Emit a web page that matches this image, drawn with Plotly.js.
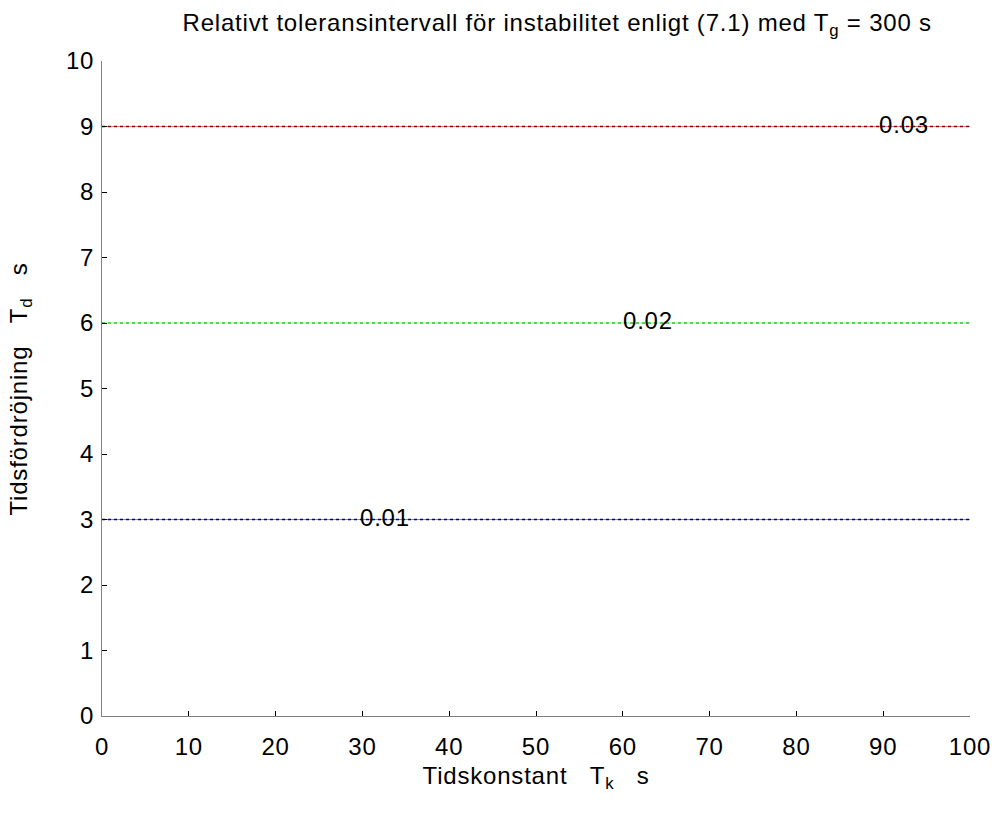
<!DOCTYPE html>
<html><head><meta charset="utf-8">
<script src="https://cdn.plot.ly/plotly-3.0.1.min.js"></script>
<style>html,body{margin:0;padding:0;background:#fff}#chart{width:995px;height:825px}
.main-svg text{letter-spacing:0.8px}</style>
</head><body><div id="chart"></div>
<script>
const xRange = [0, 100];
const levelsTd = [3, 6, 9];
const levelLabels = ['0.01', '0.02', '0.03'];
const labelX = [32.6, 62.9, 92.4];
const solidColors = ['#8080d0', '#90f090', '#d08080'];
const dashColors = ['#00008b', '#40c040', '#8b0000'];
const FONT = 'Liberation Sans, Arial, sans-serif';
const SP = '&nbsp;&nbsp;&nbsp;';

const traces = [];
levelsTd.forEach((v, i) => {
  traces.push({x: xRange, y: [v, v], mode: 'lines', line: {color: solidColors[i], width: 1.2}, hoverinfo: 'skip', showlegend: false});
  traces.push({x: xRange, y: [v, v], mode: 'lines', line: {color: dashColors[i], width: 1.5, dash: '3px,3px'}, hoverinfo: 'skip', showlegend: false});
});
traces.push({x: labelX, y: levelsTd, mode: 'text', text: levelLabels, textposition: 'middle center',
  textfont: {family: FONT, size: 24, color: '#000'}, hoverinfo: 'skip', showlegend: false});

const axisCommon = {
  showgrid: false, zeroline: false, showline: true, linecolor: '#808080', linewidth: 1,
  ticks: 'inside', ticklen: 5, tickcolor: '#000', tickwidth: 1,
  tickfont: {family: FONT, size: 24, color: '#000'}
};

const layout = {
  width: 995, height: 825,
  paper_bgcolor: '#fff', plot_bgcolor: '#fff',
  margin: {l: 102, r: 25, t: 61, b: 109},
  title: {text: 'Relativt toleransintervall för instabilitet enligt (7.1) med T<sub>g</sub> = 300 s',
    x: 0.56, xanchor: 'center', y: 0.973, yanchor: 'middle',
    font: {family: FONT, size: 24, color: '#000'}},
  xaxis: Object.assign({}, axisCommon, {range: [0, 100], dtick: 10, tick0: 0, ticklabelstandoff: 9}),
  yaxis: Object.assign({}, axisCommon, {range: [0, 10], dtick: 1, tick0: 0, ticklabelstandoff: 2}),
  annotations: [
    {text: 'Tidskonstant' + SP + 'T<sub>k</sub>' + SP + 's', xref: 'paper', yref: 'paper',
      x: 0.5, y: -0.094, xanchor: 'center', yanchor: 'middle', showarrow: false,
      font: {family: FONT, size: 24, color: '#000'}},
    {text: 'Tidsfördröjning' + SP + 'T<sub>d</sub>' + SP + 's', xref: 'paper', yref: 'paper',
      x: -0.094, y: 0.5, xanchor: 'center', yanchor: 'middle', textangle: -90, showarrow: false,
      font: {family: FONT, size: 24, color: '#000'}}
  ]
};

Plotly.newPlot('chart', traces, layout, {displayModeBar: false, staticPlot: true});
</script></body></html>
